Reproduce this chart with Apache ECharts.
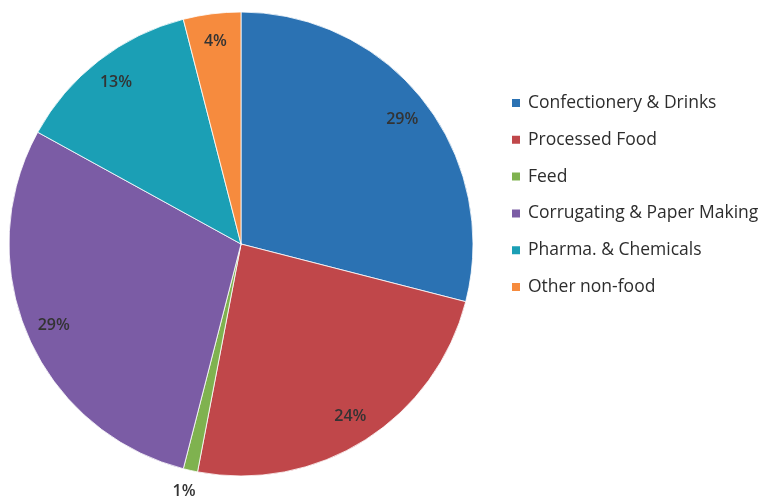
<!DOCTYPE html>
<html>
<head>
<meta charset="utf-8">
<script src="https://cdn.jsdelivr.net/npm/echarts@6/dist/echarts.min.js"></script>
<style>
  html, body { margin: 0; padding: 0; background: #fff; }
  #chart { width: 767px; height: 500px; }
</style>
</head>
<body>
<div id="chart"></div>
<script>
// Market share by end use (%)
const categories = [
  'Confectionery & Drinks',
  'Processed Food',
  'Feed',
  'Corrugating & Paper Making',
  'Pharma. & Chemicals',
  'Other non-food'
];
const shares = [29, 24, 1, 29, 13, 4];
const colors = ['#2b72b3', '#c0474a', '#7fb24f', '#7b5ca5', '#1b9fb5', '#f68b3e'];

const chart = echarts.init(document.getElementById('chart'), null, { renderer: 'canvas' });

const center = [241, 244];
const R = 232;

const pieData = categories.map((name, i) => ({
  name,
  value: shares[i],
  itemStyle: { color: colors[i] }
}));

// The tiny Feed slice carries its label below the pie
const labelData = categories.map((name, i) => {
  const item = { name, value: shares[i] };
  if (shares[i] < 2) {
    item.label = { position: 'outside', offset: [15, 0] };
    item.labelLine = { show: false, length: 22, length2: 0 };
  }
  return item;
});

chart.setOption({
  animation: false,
  color: colors,
  legend: {
    orient: 'vertical',
    left: 505,
    top: 89,
    icon: 'rect',
    itemWidth: 10,
    itemHeight: 10,
    itemGap: 18.8,
    textStyle: {
      fontFamily: '"Open Sans", sans-serif',
      fontSize: 17.5,
      lineHeight: 18,
      color: '#2d2d2d',
      padding: [0, 0, 0, 2]
    },
    data: categories
  },
  series: [
    {
      type: 'pie',
      center: center,
      radius: R,
      startAngle: 90,
      clockwise: true,
      data: pieData,
      label: { show: false },
      labelLine: { show: false },
      itemStyle: { borderColor: '#ffffff', borderWidth: 0.8 },
      emphasis: { disabled: true }
    },
    {
      // Transparent ring that positions the percentage labels
      type: 'pie',
      center: center,
      radius: [170, R],
      startAngle: 90,
      clockwise: true,
      silent: true,
      legendHoverLink: false,
      data: labelData,
      itemStyle: { color: 'rgba(0,0,0,0)' },
      label: {
        show: true,
        position: 'inside',
        formatter: '{c}%',
        fontFamily: '"Open Sans", sans-serif',
        fontSize: 16,
        fontWeight: 600,
        color: '#333333'
      },
      labelLine: { show: false },
      emphasis: { disabled: true }
    }
  ]
});
</script>
</body>
</html>
